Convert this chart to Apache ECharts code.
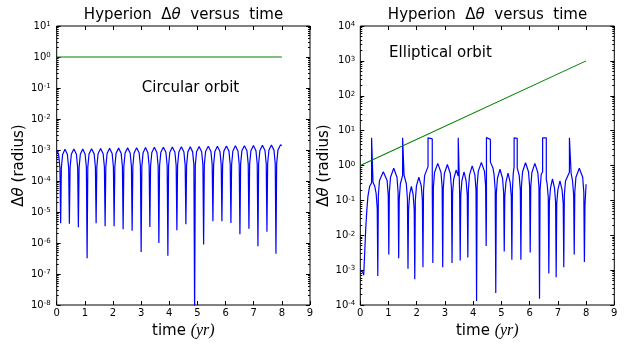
<!DOCTYPE html>
<html>
<head>
<meta charset="utf-8">
<script src="https://cdn.jsdelivr.net/npm/echarts@6/dist/echarts.min.js"></script>
<style>
  html, body { margin: 0; padding: 0; background: #fff; }
  #chart { width: 624px; height: 351px; }
</style>
</head>
<body>
<div id="chart"></div>
<script>
// tick positions
const xTicks = [0, 1, 2, 3, 4, 5, 6, 7, 8, 9]
const circularExps = [-8, -7, -6, -5, -4, -3, -2, -1, 0, 1]
const ellipticalExps = [-4, -3, -2, -1, 0, 1, 2, 3, 4]
const minorSteps = [2, 3, 4, 5, 6, 7, 8, 9]

// green reference lines
const circularRef = [[0, 1], [8, 1]]
const ellipticalRef = [[0, 1], [8, 1000]]

// blue delta-theta curve, circular orbit
const circularDelta = [
  [0, 1.0e-3], [0.07, 7.0e-4], [0.115, 2.6e-4], [0.14, 4.3e-6],
  [0.165, 2.6e-4], [0.21, 7.1e-4], [0.295, 1.05e-3], [0.38, 7.1e-4], [0.425, 2.6e-4], [0.45, 4.2e-6],
  [0.475, 2.7e-4], [0.52, 7.3e-4], [0.61, 1.07e-3], [0.70, 7.3e-4], [0.745, 2.7e-4], [0.77, 3.2e-6],
  [0.795, 2.7e-4], [0.84, 7.3e-4], [0.925, 1.08e-3], [1.01, 7.3e-4], [1.055, 2.7e-4], [1.08, 3.2e-7],
  [1.105, 2.8e-4], [1.15, 7.5e-4], [1.24, 1.10e-3], [1.33, 7.5e-4], [1.375, 2.8e-4], [1.40, 4.3e-6],
  [1.425, 2.8e-4], [1.47, 7.6e-4], [1.56, 1.12e-3], [1.65, 7.6e-4], [1.695, 2.8e-4], [1.72, 3.5e-6],
  [1.745, 2.8e-4], [1.79, 7.7e-4], [1.88, 1.13e-3], [1.97, 7.7e-4], [2.015, 2.8e-4], [2.04, 3.5e-6],
  [2.065, 2.9e-4], [2.11, 7.8e-4], [2.20, 1.15e-3], [2.29, 7.8e-4], [2.335, 2.9e-4], [2.36, 2.8e-6],
  [2.385, 2.9e-4], [2.43, 8.0e-4], [2.52, 1.17e-3], [2.61, 8.0e-4], [2.655, 2.9e-4], [2.68, 2.5e-6],
  [2.705, 3.0e-4], [2.75, 8.0e-4], [2.84, 1.18e-3], [2.93, 8.0e-4], [2.975, 3.0e-4], [3.00, 5.1e-7],
  [3.025, 3.0e-4], [3.07, 8.2e-4], [3.155, 1.20e-3], [3.24, 8.2e-4], [3.285, 3.0e-4], [3.31, 3.3e-6],
  [3.335, 3.0e-4], [3.38, 8.3e-4], [3.47, 1.22e-3], [3.56, 8.3e-4], [3.605, 3.0e-4], [3.63, 1.0e-6],
  [3.655, 3.1e-4], [3.70, 8.4e-4], [3.79, 1.23e-3], [3.88, 8.4e-4], [3.925, 3.1e-4], [3.95, 3.9e-7],
  [3.975, 3.1e-4], [4.02, 8.5e-4], [4.11, 1.25e-3], [4.20, 8.5e-4], [4.245, 3.1e-4], [4.27, 2.6e-6],
  [4.295, 3.2e-4], [4.34, 8.6e-4], [4.43, 1.27e-3], [4.52, 8.6e-4], [4.565, 3.2e-4], [4.59, 4.0e-6],
  [4.615, 3.2e-4], [4.66, 8.7e-4], [4.745, 1.28e-3], [4.83, 8.7e-4], [4.875, 3.2e-4], [4.90, 5e-9],
  [4.925, 3.3e-4], [4.97, 8.8e-4], [5.06, 1.30e-3], [5.15, 8.8e-4], [5.195, 3.3e-4], [5.22, 8.9e-7],
  [5.245, 3.3e-4], [5.29, 9.0e-4], [5.385, 1.32e-3], [5.48, 9.0e-4], [5.525, 3.3e-4], [5.55, 5.0e-6],
  [5.575, 3.3e-4], [5.62, 9.0e-4], [5.71, 1.33e-3], [5.80, 9.0e-4], [5.845, 3.3e-4], [5.87, 5.0e-6],
  [5.895, 3.4e-4], [5.94, 9.2e-4], [6.03, 1.35e-3], [6.12, 9.2e-4], [6.165, 3.4e-4], [6.19, 4.4e-6],
  [6.215, 3.4e-4], [6.26, 9.3e-4], [6.35, 1.37e-3], [6.44, 9.3e-4], [6.485, 3.4e-4], [6.51, 1.9e-6],
  [6.535, 3.5e-4], [6.58, 9.4e-4], [6.67, 1.38e-3], [6.76, 9.4e-4], [6.805, 3.5e-4], [6.83, 2.9e-6],
  [6.855, 3.5e-4], [6.90, 9.5e-4], [6.99, 1.40e-3], [7.08, 9.5e-4], [7.125, 3.5e-4], [7.15, 7.8e-7],
  [7.175, 3.6e-4], [7.22, 9.7e-4], [7.31, 1.42e-3], [7.40, 9.7e-4], [7.445, 3.6e-4], [7.47, 2.3e-6],
  [7.495, 3.6e-4], [7.54, 9.9e-4], [7.63, 1.45e-3], [7.72, 9.9e-4], [7.765, 3.6e-4], [7.79, 4.5e-7],
  [7.815, 3.6e-4], [7.86, 9.9e-4], [7.95, 1.46e-3], [8.0, 1.40e-3]
]

// blue delta-theta curve, elliptical orbit
const ellipticalDelta = [
  [0, 1.0e-3], [0.06, 9.5e-4], [0.1, 8.5e-4], [0.12, 7.2e-4],
  [0.155, 3.0e-3], [0.19, 0.014], [0.23, 0.05], [0.27, 0.13], [0.33, 0.25], [0.40, 0.32],
  [0.40, 6.2], [0.45, 6.2], [0.45, 0.33], [0.51, 0.26], [0.56, 0.16], [0.60, 0.06], [0.62, 6.8e-4],
  [0.64, 0.14], [0.68, 0.37], [0.815, 0.66], [0.95, 0.37], [0.99, 0.14], [1.01, 2.8e-3],
  [1.03, 0.17], [1.07, 0.46], [1.185, 0.83], [1.30, 0.46], [1.34, 0.17], [1.36, 2.2e-3],
  [1.38, 0.11], [1.42, 0.3], [1.50, 0.52], [1.50, 6.2], [1.55, 6.2], [1.55, 0.53], [1.63, 0.3], [1.67, 0.11], [1.69, 1.1e-3],
  [1.71, 0.055], [1.75, 0.15], [1.81, 0.25], [1.87, 0.15], [1.91, 0.055], [1.93, 5.5e-4],
  [1.95, 0.1], [1.99, 0.26], [2.075, 0.46], [2.16, 0.26], [2.20, 0.1], [2.22, 1.2e-3],
  [2.24, 0.19], [2.28, 0.52], [2.40, 0.93], [2.40, 6.2], [2.55, 5.8], [2.55, 0.19], [2.57, 1.6e-3],
  [2.59, 0.24], [2.63, 0.63], [2.745, 1.15], [2.86, 0.63], [2.90, 0.24], [2.92, 1.2e-3],
  [2.94, 0.22], [2.98, 0.59], [3.085, 1.07], [3.19, 0.59], [3.23, 0.22], [3.25, 1.6e-3],
  [3.27, 0.16], [3.31, 0.41], [3.395, 0.74], [3.47, 0.5], [3.47, 6.2], [3.52, 6.2], [3.52, 0.16], [3.54, 1.9e-3],
  [3.56, 0.14], [3.60, 0.36], [3.675, 0.66], [3.75, 0.36], [3.79, 0.14], [3.81, 2.3e-3],
  [3.83, 0.2], [3.87, 0.54], [3.965, 0.98], [4.06, 0.54], [4.10, 0.2], [4.12, 1.3e-4],
  [4.14, 0.26], [4.18, 0.68], [4.29, 1.23], [4.40, 0.68], [4.44, 0.26], [4.46, 4.9e-3],
  [4.47, 0.05], [4.47, 6.3], [4.61, 5.6], [4.61, 1.25], [4.64, 1.2], [4.70, 0.85], [4.74, 0.55], [4.78, 0.2], [4.80, 2.2e-4],
  [4.82, 0.16], [4.86, 0.43], [4.95, 0.78], [5.04, 0.43], [5.08, 0.16], [5.10, 3.4e-3],
  [5.12, 0.13], [5.16, 0.33], [5.235, 0.6], [5.31, 0.33], [5.35, 0.13], [5.37, 2.0e-3],
  [5.39, 0.2], [5.42, 0.6], [5.45, 0.93], [5.45, 6.2], [5.56, 6.0], [5.56, 0.85], [5.63, 0.52], [5.67, 0.2], [5.69, 2.0e-3],
  [5.71, 0.25], [5.75, 0.66], [5.855, 1.2], [5.96, 0.66], [6.00, 0.25], [6.02, 3.2e-3],
  [6.04, 0.24], [6.08, 0.63], [6.185, 1.15], [6.29, 0.63], [6.33, 0.24], [6.35, 1.5e-4],
  [6.37, 0.2], [6.41, 0.55], [6.46, 0.66], [6.46, 6.2], [6.59, 6.2], [6.59, 0.4], [6.62, 0.3], [6.66, 0.12], [6.68, 8.0e-4],
  [6.70, 0.09], [6.74, 0.23], [6.81, 0.41], [6.88, 0.23], [6.92, 0.09], [6.94, 6.3e-4],
  [6.96, 0.08], [7.00, 0.2], [7.075, 0.36], [7.15, 0.2], [7.19, 0.08], [7.21, 1.2e-3],
  [7.23, 0.14], [7.27, 0.36], [7.41, 0.64], [7.41, 6.2], [7.47, 6.2], [7.47, 0.6], [7.52, 0.36], [7.56, 0.14], [7.58, 2.8e-3],
  [7.60, 0.17], [7.64, 0.46], [7.76, 0.83], [7.88, 0.46], [7.92, 0.17], [7.94, 1.7e-3],
  [7.96, 0.07], [8.0, 0.29]
]

const FONT = 'DejaVu Sans'
const chart = echarts.init(document.getElementById('chart'))

const mathRich = {
  a: { fontFamily: FONT, fontSize: 15, fontWeight: 'normal', color: '#000' },
  i: { fontFamily: FONT, fontSize: 15, fontWeight: 'normal', fontStyle: 'italic', color: '#000' },
  m: { fontFamily: 'Liberation Serif', fontSize: 16, fontWeight: 'normal', fontStyle: 'italic', color: '#000' }
}

const powRich = {
  b: { fontFamily: FONT, fontSize: 10, lineHeight: 10, verticalAlign: 'bottom', padding: [3, 0, 0, 0], color: '#000' },
  s: { fontFamily: FONT, fontSize: 7, lineHeight: 7, verticalAlign: 'top', color: '#000' }
}

function powLabel(value) {
  const e = Math.round(Math.log10(value))
  return '{b|10}{s|' + e + '}'
}

function makeXAxes(gridIndex) {
  const base = {
    type: 'value', gridIndex, min: 0, max: 9, interval: 1,
    splitLine: { show: false }, axisLine: { show: false }
  }
  return [
    {
      ...base, position: 'bottom',
      axisTick: { inside: true, length: 4, lineStyle: { color: '#000' } },
      axisLabel: { margin: 3, fontFamily: FONT, fontSize: 10, color: '#000', customValues: xTicks },
      name: '{a|time }{m|(yr)}', nameLocation: 'middle', nameGap: 18,
      nameTextStyle: { rich: mathRich }
    },
    {
      ...base, position: 'top',
      axisTick: { inside: true, length: 4, lineStyle: { color: '#000' } },
      axisLabel: { show: false }
    }
  ]
}

function makeYAxes(gridIndex, exps, labelMargin) {
  const majors = exps.map((e) => Math.pow(10, e))
  const minors = []
  exps.slice(0, -1).forEach((e) => minorSteps.forEach((m) => minors.push(m * Math.pow(10, e))))
  const base = {
    type: 'log', logBase: 10, gridIndex,
    min: majors[0], max: majors[majors.length - 1],
    splitLine: { show: false }, axisLine: { show: false }
  }
  const major = { inside: true, length: 4, customValues: majors, lineStyle: { color: '#000' } }
  const minor = { inside: true, length: 2, customValues: minors, lineStyle: { color: '#000' } }
  return [
    {
      ...base, position: 'left', axisTick: major,
      axisLabel: { customValues: majors, margin: labelMargin, formatter: powLabel, rich: powRich },
      name: '{a|Δ}{i|θ}{a| (radius)}', nameLocation: 'middle', nameGap: 29,
      nameTextStyle: { rich: mathRich }
    },
    { ...base, position: 'left', axisTick: minor, axisLabel: { show: false } },
    { ...base, position: 'right', axisTick: major, axisLabel: { show: false } },
    { ...base, position: 'right', axisTick: minor, axisLabel: { show: false } }
  ]
}

const gridStyle = { show: true, borderColor: '#000', borderWidth: 1, backgroundColor: 'transparent', outerBoundsMode: 'none' }
const titleText = '{a|Hyperion  Δ}{i|θ}{a|  versus  time}'
const noteStyle = { fontFamily: FONT, fontSize: 15, fontWeight: 'normal', color: '#000' }

chart.setOption({
  animation: false,
  backgroundColor: '#fff',
  title: [
    { text: titleText, left: 183.5, top: 8, padding: 0, textAlign: 'center', textStyle: { fontWeight: 'normal', rich: mathRich } },
    { text: titleText, left: 487.5, top: 8, padding: 0, textAlign: 'center', textStyle: { fontWeight: 'normal', rich: mathRich } },
    { text: 'Circular orbit', left: 190.5, top: 81, padding: 0, textAlign: 'center', textStyle: noteStyle },
    { text: 'Elliptical orbit', left: 440.5, top: 46, padding: 0, textAlign: 'center', textStyle: noteStyle }
  ],
  grid: [
    { ...gridStyle, left: 56.7, right: 314, top: 26, bottom: 46 },
    { ...gridStyle, left: 360.3, right: 9.7, top: 26, bottom: 46 }
  ],
  xAxis: [...makeXAxes(0), ...makeXAxes(1)],
  yAxis: [...makeYAxes(0, circularExps, 6), ...makeYAxes(1, ellipticalExps, 5)],
  series: [
    {
      type: 'line', xAxisIndex: 0, yAxisIndex: 0, data: circularDelta,
      showSymbol: false, symbol: 'none', clip: true, lineStyle: { color: '#0000ff', width: 1.2 }
    },
    {
      type: 'line', xAxisIndex: 0, yAxisIndex: 0, data: circularRef,
      showSymbol: false, symbol: 'none', lineStyle: { color: '#008000', width: 1.1 }
    },
    {
      type: 'line', xAxisIndex: 2, yAxisIndex: 4, data: ellipticalDelta,
      showSymbol: false, symbol: 'none', clip: true, lineStyle: { color: '#0000ff', width: 1.2 }
    },
    {
      type: 'line', xAxisIndex: 2, yAxisIndex: 4, data: ellipticalRef,
      showSymbol: false, symbol: 'none', lineStyle: { color: '#008000', width: 1.1 }
    }
  ]
})
</script>
</body>
</html>
